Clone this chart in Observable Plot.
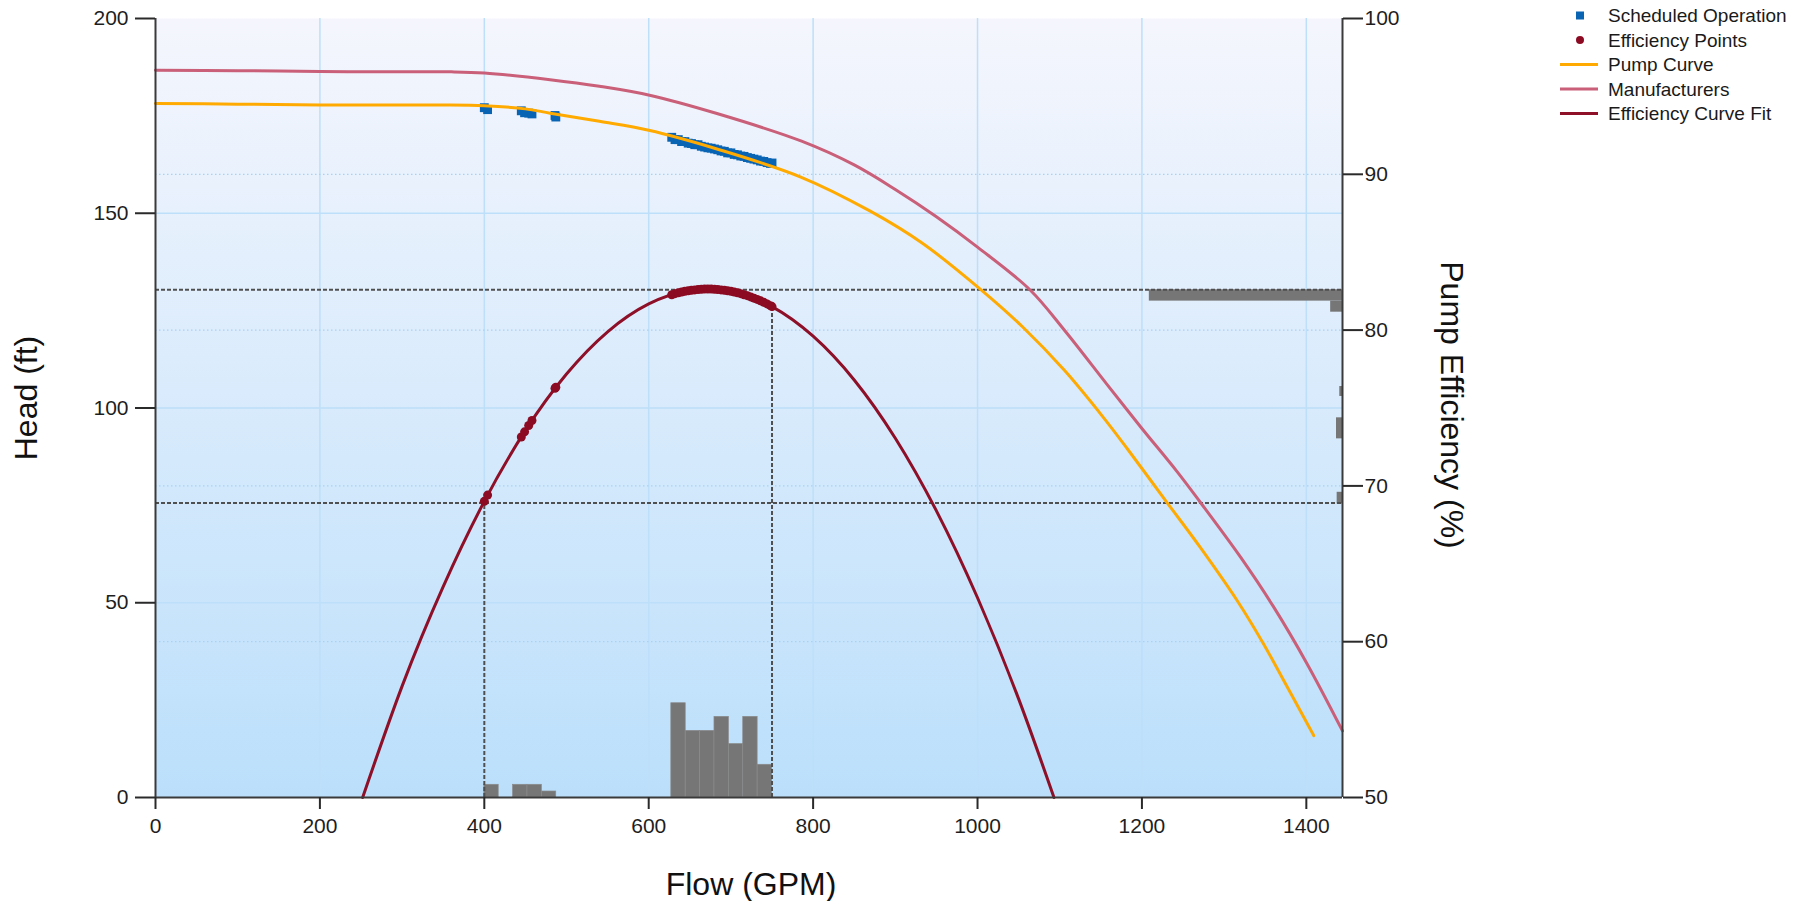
<!DOCTYPE html>
<html>
<head>
<meta charset="utf-8">
<script src="https://cdn.jsdelivr.net/npm/d3@7"></script>
<script src="https://cdn.jsdelivr.net/npm/@observablehq/plot@0.6"></script>
<style>
html, body { margin: 0; padding: 0; background: #ffffff; overflow: hidden; }
#chart { position: relative; width: 1810px; height: 901px; }
</style>
</head>
<body>
<div id="chart"></div>
<script>
// ---------------- data ----------------
// Pump curve (Flow GPM -> Head ft)
const pumpFlow = [0, 100, 200, 300, 350, 400, 450, 480, 540, 600, 683, 785, 869, 933, 1004, 1055, 1106, 1153, 1182, 1231, 1271, 1316, 1348, 1377, 1409];
const pumpHead = [178.2, 178.0, 177.8, 177.8, 177.8, 177.6, 176.8, 175.7, 173.6, 171.3, 166.5, 159.3, 150.6, 142.3, 130.4, 120.8, 109.6, 97.6, 89.6, 75.6, 64.2, 50.5, 39.4, 28.3, 15.9];

// Manufacturers curve
const mfrFlow = [0, 100, 200, 300, 360, 400, 480, 540, 601, 683, 786, 850, 900, 950, 1000, 1064, 1106, 1157, 1199, 1243, 1271, 1320, 1360, 1401, 1444];
const mfrHead = [186.7, 186.6, 186.4, 186.3, 186.3, 186.0, 184.3, 182.6, 180.3, 175.6, 168.5, 162.4, 156.1, 149.1, 141.3, 130.3, 119.9, 106.2, 95.0, 83.6, 75.8, 61.7, 49.0, 34.3, 17.1];

// Efficiency curve fit (Flow GPM -> efficiency %)
const fitFlow = [252, 300, 350, 400, 450, 500, 550, 600, 650, 700, 750, 800, 850, 900, 950, 1000, 1050, 1093];
const fitEff  = [50.0, 57.15, 63.54, 69.01, 73.56, 77.18, 79.89, 81.68, 82.54, 82.49, 81.51, 79.61, 76.80, 73.06, 68.40, 62.82, 56.33, 50.0];

// Scheduled operation points (Flow, Head)
const schedFlow = [400, 404, 445, 449, 454, 458, 486, 487,
  628, 632, 636, 640, 644, 648, 652, 656, 660, 664, 668, 672, 676, 680, 684, 688, 692, 696,
  700, 704, 708, 712, 716, 720, 724, 728, 732, 736, 740, 744, 748, 750];
const schedHead = [177.1, 176.6, 176.3, 175.8, 175.7, 175.5, 175.1, 174.7,
  169.5, 168.9, 168.9, 168.4, 168.4, 168.0, 167.9, 167.6, 167.6, 167.2, 167.0, 166.8, 166.7, 166.5, 166.3, 166.0, 165.9, 165.5,
  165.5, 165.1, 165.0, 164.7, 164.6, 164.3, 164.1, 163.9, 163.7, 163.4, 163.3, 163.0, 162.8, 162.9];

// Efficiency points (Flow, efficiency %)
const effPtFlow = [400, 404, 445, 449, 454, 458, 486, 487,
  628, 632, 636, 640, 644, 648, 652, 656, 660, 664, 668, 672, 676, 680, 684, 688, 692, 696,
  700, 704, 708, 712, 716, 720, 724, 728, 732, 736, 740, 744, 748, 750];
const effPtEff = [69.01, 69.41, 73.14, 73.47, 73.88, 74.20, 76.26, 76.33,
  82.27, 82.34, 82.39, 82.44, 82.49, 82.52, 82.56, 82.58, 82.60, 82.62, 82.63, 82.63, 82.63, 82.62, 82.60, 82.58, 82.56, 82.52,
  82.49, 82.44, 82.39, 82.34, 82.27, 82.21, 82.13, 82.05, 81.97, 81.88, 81.78, 81.68, 81.57, 81.51];

// Flow histogram (bin start GPM, bar height on the head axis)
const flowBinWidth = 17.5;
const flowBinStart  = [400, 435, 452.5, 470, 627.5, 645, 662.5, 680, 697.5, 715, 732.5];
const flowBinHeight = [3.26, 3.26, 3.26, 1.54, 24.2, 17.1, 17.1, 20.7, 13.7, 20.7, 8.4];

// Efficiency histogram at the right edge (bin low %, bin high %, bar length in GPM)
const effBinLow    = [81.86, 81.15, 75.74, 73.02, 68.84];
const effBinHigh   = [82.59, 81.86, 76.38, 74.37, 69.59];
const effBinLength = [235, 14.4, 3.3, 7.3, 6.5];

// Reference (dashed) lines
const refEff = [82.59, 68.9];          // horizontal, efficiency %
const refFlow = [400, 750];            // vertical, GPM
const refFlowEff = [68.9, 81.4];       // top of each vertical line, efficiency %

// Axes
const xMax = 1444;
const xTicks = [0, 200, 400, 600, 800, 1000, 1200, 1400];
const headTicks = [0, 50, 100, 150, 200];
const effTicks = [50, 60, 70, 80, 90, 100];

// ---------------- build ----------------
const effToHead = e => (e - 50) * 4;   // right axis 50..100 mapped onto left 0..200

const pump = pumpFlow.map((x, i) => ({x, y: pumpHead[i]}));
const mfr = mfrFlow.map((x, i) => ({x, y: mfrHead[i]}));
const fit = fitFlow.map((x, i) => ({x, y: effToHead(fitEff[i])}));
const sched = schedFlow.map((x, i) => ({x, y: schedHead[i]}));
const effPts = effPtFlow.map((x, i) => ({x, y: effToHead(effPtEff[i])}));
const flowBins = flowBinStart.map((x1, i) => ({x1, x2: x1 + flowBinWidth, h: flowBinHeight[i]}));
const effBins = effBinLow.map((lo, i) => ({x1: xMax - effBinLength[i], x2: xMax, y1: effToHead(lo), y2: effToHead(effBinHigh[i])}));
const refV = refFlow.map((x, i) => ({x, y2: effToHead(refFlowEff[i])}));

const FONT = "'Liberation Sans', Arial, Helvetica, sans-serif";
const DASH = {stroke: "#4f4f4f", strokeWidth: 2, strokeDasharray: "4,2"};

const chart = Plot.plot({
  width: 1810,
  height: 901,
  marginLeft: 155,
  marginRight: 468,
  marginTop: 18,
  marginBottom: 104,
  x: {domain: [0, xMax]},
  y: {domain: [0, 200]},
  style: {fontFamily: FONT, fontSize: "21px", color: "#1e1e1e", background: "transparent", overflow: "visible"},
  marks: [
    Plot.frame({fill: "url(#bgGrad)", stroke: "none"}),
    Plot.gridX(xTicks.slice(1), {stroke: "#bddff9", strokeOpacity: 1, strokeWidth: 1.5}),
    Plot.gridY(headTicks.slice(1, -1), {stroke: "#bddff9", strokeOpacity: 1, strokeWidth: 1.5}),
    Plot.gridY(effTicks.slice(1, -1).map(effToHead), {stroke: "#a7d2f5", strokeOpacity: 1, strokeWidth: 1.3, strokeDasharray: "1.5,2.5"}),
    Plot.rectY(flowBins, {x1: "x1", x2: "x2", y: "h", fill: "#767676", stroke: "#8a8a8a", strokeWidth: 0.7}),
    Plot.rect(effBins, {x1: "x1", x2: "x2", y1: "y1", y2: "y2", fill: "#767676"}),
    Plot.ruleY(refEff.map(effToHead), DASH),
    Plot.ruleX(refV, {x: "x", y1: 0, y2: "y2", ...DASH}),
    Plot.line(mfr, {x: "x", y: "y", stroke: "#c95f78", strokeWidth: 3, curve: "catmull-rom"}),
    Plot.dot(sched, {x: "x", y: "y", symbol: "square", r: 5, fill: "#0a64b4"}),
    Plot.line(pump, {x: "x", y: "y", stroke: "#ffaa00", strokeWidth: 3, curve: "catmull-rom"}),
    Plot.line(fit, {x: "x", y: "y", stroke: "#8e0f28", strokeWidth: 3, curve: "natural"}),
    Plot.dot(effPts, {x: "x", y: "y", r: 4.5, fill: "#8c0b22"}),
    Plot.ruleX([0, xMax], {stroke: "#3a3a3a", strokeWidth: 2}),
    Plot.ruleY([0], {stroke: "#3a3a3a", strokeWidth: 2}),
    Plot.axisY({anchor: "left", ticks: headTicks, tickFormat: d => String(d), tickSize: 20, tickPadding: 7, label: null, stroke: "#2a2a2a", strokeWidth: 2}),
    Plot.axisY({anchor: "right", ticks: effTicks.map(effToHead), tickFormat: d => String(50 + d / 4), tickSize: 20, tickPadding: 2, label: null, stroke: "#2a2a2a", strokeWidth: 2}),
    Plot.axisX({anchor: "bottom", ticks: xTicks, tickFormat: d => String(d), tickSize: 12, tickPadding: 9, label: null, stroke: "#2a2a2a", strokeWidth: 2})
  ]
});

const svg = d3.select(chart);
const defs = svg.insert("defs", ":first-child");
const grad = defs.append("linearGradient").attr("id", "bgGrad").attr("x1", 0).attr("y1", 0).attr("x2", 0).attr("y2", 1);
grad.append("stop").attr("offset", "0%").attr("stop-color", "#f5f6fd");
grad.append("stop").attr("offset", "100%").attr("stop-color", "#bbdffb");

// axis titles
svg.append("text").attr("x", 751).attr("y", 895).attr("text-anchor", "middle")
  .attr("font-family", FONT).attr("font-size", 32).attr("fill", "#111").text("Flow (GPM)");
svg.append("text").attr("transform", "translate(37,398) rotate(-90)").attr("text-anchor", "middle")
  .attr("font-family", FONT).attr("font-size", 32).attr("fill", "#111").text("Head (ft)");
svg.append("text").attr("transform", "translate(1441,405) rotate(90)").attr("text-anchor", "middle")
  .attr("font-family", FONT).attr("font-size", 32).attr("fill", "#111").text("Pump Efficiency (%)");

// legend
const legendItems = [
  {label: "Scheduled Operation", type: "square", color: "#0a64b4"},
  {label: "Efficiency Points", type: "dot", color: "#8c0b22"},
  {label: "Pump Curve", type: "line", color: "#ffaa00"},
  {label: "Manufacturers", type: "line", color: "#c95f78"},
  {label: "Efficiency Curve Fit", type: "line", color: "#8e0f28"}
];
const lg = svg.append("g").attr("font-family", FONT).attr("font-size", 19).attr("fill", "#1a1a1a").attr("text-anchor", "start");
legendItems.forEach((it, i) => {
  const cy = 15.5 + i * 24.5;
  if (it.type === "square") lg.append("rect").attr("x", 1576).attr("y", cy - 4).attr("width", 8).attr("height", 8).attr("fill", it.color);
  else if (it.type === "dot") lg.append("circle").attr("cx", 1580).attr("cy", cy).attr("r", 4).attr("fill", it.color);
  else lg.append("line").attr("x1", 1560).attr("x2", 1598).attr("y1", cy).attr("y2", cy).attr("stroke", it.color).attr("stroke-width", 3);
  lg.append("text").attr("x", 1608).attr("y", cy + 6.5).attr("text-anchor", "start").text(it.label);
});

document.getElementById("chart").appendChild(chart);
</script>
</body>
</html>
